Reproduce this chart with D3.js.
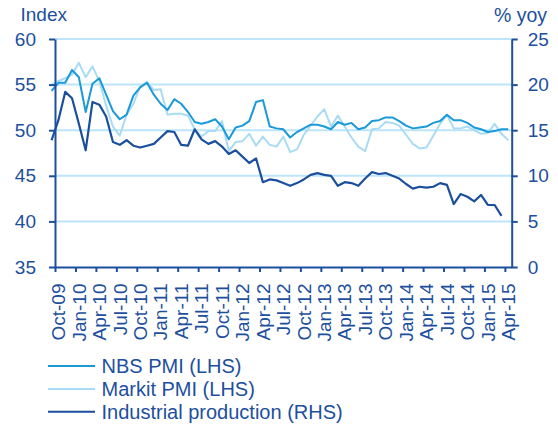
<!DOCTYPE html>
<html>
<head>
<meta charset="utf-8">
<script src="https://cdnjs.cloudflare.com/ajax/libs/d3/7.8.5/d3.min.js"></script>
<style>
body { margin: 0; background: #fff; }
svg text { font-family: "Liberation Sans", Arial, sans-serif; }
</style>
</head>
<body>
<div id="main"></div>
<script>
// monthly data, Sep-09 .. Apr-15
const START = new Date(2009, 8, 1);
const months = d3.timeMonth.range(START, new Date(2015, 4, 1));

const nbsPmi = [54.3, 55.2, 55.2, 56.6,
    55.8, 52.0, 55.1, 55.7, 53.9, 52.1, 51.2, 51.7, 53.8, 54.7, 55.2, 53.9,
    52.9, 52.2, 53.4, 52.9, 52.0, 50.9, 50.7, 50.9, 51.2, 50.4, 49.0, 50.3,
    50.5, 51.0, 53.1, 53.3, 50.4, 50.2, 50.1, 49.2, 49.8, 50.2, 50.6, 50.6,
    50.4, 50.1, 50.9, 50.6, 50.8, 50.1, 50.3, 51.0, 51.1, 51.4, 51.4, 51.0,
    50.5, 50.2, 50.3, 50.4, 50.8, 51.0, 51.7, 51.1, 51.1, 50.8, 50.3, 50.1,
    49.8, 49.9, 50.1, 50.1];

const markitPmi = [55.0, 55.4, 55.7, 56.1,
    57.4, 55.8, 57.0, 55.4, 52.7, 50.4, 49.4, 51.7, 52.9, 54.8, 55.3, 54.4,
    54.5, 51.7, 51.8, 51.8, 51.6, 50.1, 49.3, 49.9, 49.9, 51.0, 47.7, 48.7,
    48.8, 49.6, 48.3, 49.3, 48.4, 48.2, 49.3, 47.6, 47.9, 49.5, 50.5, 51.5,
    52.3, 50.4, 51.6, 50.4, 49.2, 48.2, 47.7, 50.1, 50.2, 50.9, 50.8, 50.5,
    49.5, 48.5, 48.0, 48.1, 49.4, 50.7, 51.7, 50.2, 50.2, 50.4, 50.0, 49.6,
    49.7, 50.7, 49.6, 48.9];

// % yoy, ends Mar-15
const indProd = [13.9, 16.1, 19.2, 18.5,
    15.7, 12.8, 18.1, 17.8, 16.5, 13.7, 13.4, 13.9, 13.3, 13.1, 13.3, 13.5,
    14.2, 14.9, 14.8, 13.4, 13.3, 15.1, 14.0, 13.5, 13.8, 13.2, 12.4, 12.8,
    12.1, 11.4, 11.9, 9.3, 9.6, 9.5, 9.2, 8.9, 9.2, 9.6, 10.1, 10.3,
    10.1, 10.0, 8.9, 9.3, 9.2, 8.9, 9.7, 10.4, 10.2, 10.3, 10.0, 9.7,
    9.1, 8.6, 8.8, 8.7, 8.8, 9.2, 9.0, 6.9, 8.0, 7.7, 7.2, 7.9,
    6.8, 6.8, 5.6];

const leftTicks = [35, 40, 45, 50, 55, 60];
const rightTicks = [0, 5, 10, 15, 20, 25];
const tickLabels = ["Oct-09", "Jan-10", "Apr-10", "Jul-10", "Oct-10", "Jan-11",
    "Apr-11", "Jul-11", "Oct-11", "Jan-12", "Apr-12", "Jul-12", "Oct-12", "Jan-13",
    "Apr-13", "Jul-13", "Oct-13", "Jan-14", "Apr-14", "Jul-14", "Oct-14", "Jan-15", "Apr-15"];

const seriesNames = ["NBS PMI (LHS)", "Markit PMI (LHS)", "Industrial production (RHS)"];

const ctx = {
    w: 558,
    h: 425,
    left: 55,
    right: 511.7,
    top: 39,
    bottom: 267,
    TEXT: "#1d4f9d",
    AXIS: "#1d4f9d",
    GRID: "#bde5f8",
    COLORS: ["#1a9ad8", "#a9dcf4", "#1b4f9e"],
};

function createViz(){
    const svg = d3.select("#main").append("svg")
        .attr("width", ctx.w)
        .attr("height", ctx.h);

    // category axis: index 0 = Sep-09, plot area spans Oct-09 .. Apr-15
    const x = d3.scaleLinear().domain([0.5, months.length - 0.5]).range([ctx.left, ctx.right]);
    const yL = d3.scaleLinear().domain([35, 60]).range([ctx.bottom, ctx.top]);
    const yR = d3.scaleLinear().domain([0, 25]).range([ctx.bottom, ctx.top]);

    // gridlines
    svg.append("g").selectAll("line")
        .data(leftTicks.slice(1))
        .enter().append("line")
        .attr("x1", ctx.left).attr("x2", ctx.right)
        .attr("y1", d => yL(d)).attr("y2", d => yL(d))
        .attr("stroke", ctx.GRID)
        .attr("stroke-width", 2);

    // lines
    const series = [
        {name: seriesNames[1], values: markitPmi, y: yL, color: ctx.COLORS[1], width: 2},
        {name: seriesNames[0], values: nbsPmi, y: yL, color: ctx.COLORS[0], width: 2},
        {name: seriesNames[2], values: indProd, y: yR, color: ctx.COLORS[2], width: 2.2},
    ];
    series.forEach(function(s){
        const line = d3.line()
            .x((d, i) => x(i))
            .y(d => s.y(d));
        svg.append("path")
            .datum(s.values)
            .attr("d", line)
            .attr("fill", "none")
            .attr("stroke", s.color)
            .attr("stroke-width", s.width)
            .attr("stroke-linejoin", "round");
    });

    // axes
    const styleAxis = function(g, size){
        g.attr("color", ctx.AXIS);
        g.selectAll("path, line").attr("stroke-width", 2);
        g.selectAll("text")
            .attr("font-size", size)
            .attr("font-family", "Liberation Sans, Arial, sans-serif")
            .attr("fill", ctx.TEXT);
    };

    svg.append("g")
        .attr("transform", "translate(" + ctx.left + ",0)")
        .call(d3.axisLeft(yL).tickValues(leftTicks).tickSize(6).tickSizeOuter(0).tickPadding(13))
        .call(g => styleAxis(g, 19));

    svg.append("g")
        .attr("transform", "translate(" + ctx.right + ",0)")
        .call(d3.axisRight(yR).tickValues(rightTicks).tickSize(6).tickSizeOuter(0).tickPadding(10))
        .call(g => styleAxis(g, 19));

    // tick marks sit between the quarters, labels on the months
    const tickIdx = tickLabels.map((d, i) => 0.5 + 3 * i);
    const labelIdx = tickLabels.map((d, i) => 1 + 3 * i);

    svg.append("g")
        .attr("transform", "translate(0," + ctx.bottom + ")")
        .call(d3.axisBottom(x).tickValues(tickIdx).tickSize(5).tickSizeOuter(0).tickFormat(""))
        .call(g => styleAxis(g, 19));

    const xl = svg.append("g")
        .attr("transform", "translate(0," + ctx.bottom + ")")
        .call(d3.axisBottom(x).tickValues(labelIdx).tickSize(0)
              .tickFormat((d, i) => tickLabels[i]));
    xl.select(".domain").remove();
    styleAxis(xl, 19);
    xl.selectAll("text")
        .attr("transform", "rotate(-90)")
        .attr("text-anchor", "end")
        .attr("x", -16.5)
        .attr("y", 0)
        .attr("dy", "0.33em");

    // axis titles
    svg.append("text")
        .attr("x", 20.5).attr("y", 21)
        .attr("font-size", 19)
        .attr("fill", ctx.TEXT)
        .text("Index");
    svg.append("text")
        .attr("x", 547).attr("y", 21.5)
        .attr("text-anchor", "end")
        .attr("font-size", 19.5)
        .attr("fill", ctx.TEXT)
        .text("% yoy");

    // legend
    const legend = svg.append("g").selectAll("g")
        .data(seriesNames)
        .enter().append("g")
        .attr("transform", (d, i) => "translate(0," + (366 + 22.9 * i) + ")");
    legend.append("line")
        .attr("x1", 48).attr("x2", 95)
        .attr("stroke", (d, i) => ctx.COLORS[i])
        .attr("stroke-width", 2);
    legend.append("text")
        .attr("x", 101.5)
        .attr("dy", "0.36em")
        .attr("font-size", 20)
        .attr("fill", ctx.TEXT)
        .text(d => d);
}

createViz();
</script>
</body>
</html>
